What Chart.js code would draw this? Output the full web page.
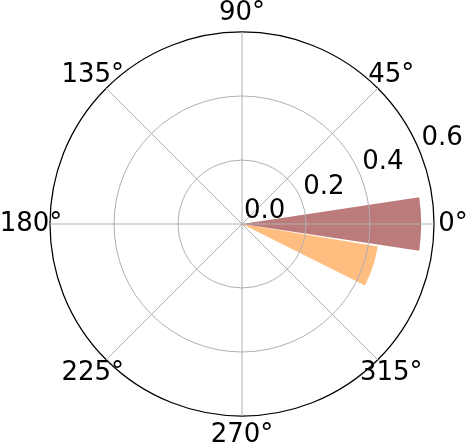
<!DOCTYPE html>
<html>
<head>
<meta charset="utf-8">
<script src="https://cdn.jsdelivr.net/npm/chart.js@4/dist/chart.umd.min.js"></script>
<style>
  body { margin: 0; background: #fff; }
  canvas { display: block; }
</style>
</head>
<body>
<canvas id="polar" width="467" height="443"></canvas>
<script>
// theta tick labels, clockwise from the top (degrees)
var angleTicks = [90, 45, 0, 315, 270, 225, 180, 135];
// radial axis
var rMax = 0.6;
var rStep = 0.2;
// bars: centre angle (deg, counter-clockwise from east), width (deg), height
var barCenters = [0, -18];
var barWidths = [17.2, 17.2];
var barValues = [0.56, 0.43];
var barColors = ['#bc7b7b', '#ffbe80'];

var FONT = '26px "DejaVu Sans"';

// polarArea lays arcs clockwise from the top, so put an empty arc in front of each bar
var datasets = barValues.map(function (v, i) {
    var lead = ((90 - barCenters[i] - barWidths[i] / 2) % 360 + 360) % 360;
    var angles = [lead, barWidths[i]];
    return {
        data: [0, v],
        backgroundColor: ['rgba(0,0,0,0)', barColors[i]],
        borderWidth: 0,
        angle: function (c) { return angles[c.dataIndex]; }
    };
});

var labelPlugin = {
    id: 'polarLabels',
    afterDraw: function (chart) {
        var s = chart.scales.r;
        var ctx = chart.ctx;
        ctx.save();
        ctx.font = FONT;
        ctx.fillStyle = '#000';
        // theta labels
        ctx.textAlign = 'center';
        ctx.textBaseline = 'middle';
        angleTicks.forEach(function (a, i) {
            var p = s.getPointPosition(i, s.drawingArea + 19);
            ctx.fillText(a + '°', p.x, p.y + 0.5);
        });
        // r labels along 22.5 deg (index 1.5 sits between 45 and 0)
        ctx.textAlign = 'left';
        ctx.textBaseline = 'alphabetic';
        s.ticks.forEach(function (t) {
            var p = s.getPointPosition(1.5, s.getDistanceFromCenterForValue(t.value));
            ctx.fillText(t.value.toFixed(1), p.x + 2, p.y - 6);
        });
        ctx.restore();
    }
};

new Chart(document.getElementById('polar'), {
    type: 'polarArea',
    data: {
        labels: angleTicks.map(function (a) { return a + '°'; }),
        datasets: datasets
    },
    options: {
        responsive: false,
        animation: false,
        layout: { padding: { left: 50, right: 33, top: 32, bottom: 27 } },
        plugins: {
            legend: { display: false },
            tooltip: { enabled: false }
        },
        scales: {
            r: {
                min: 0,
                max: rMax,
                startAngle: 0,
                ticks: { display: false, stepSize: rStep },
                pointLabels: { display: false },
                angleLines: { display: true, color: '#b0b0b0', lineWidth: 1 },
                grid: {
                    z: 1,
                    lineWidth: function (c) {
                        return c.tick && c.tick.value >= rMax - 1e-9 ? 1.25 : 1;
                    },
                    color: function (c) {
                        return c.tick && c.tick.value >= rMax - 1e-9 ? '#000000' : '#b0b0b0';
                    }
                }
            }
        }
    },
    plugins: [labelPlugin]
});
</script>
</body>
</html>
